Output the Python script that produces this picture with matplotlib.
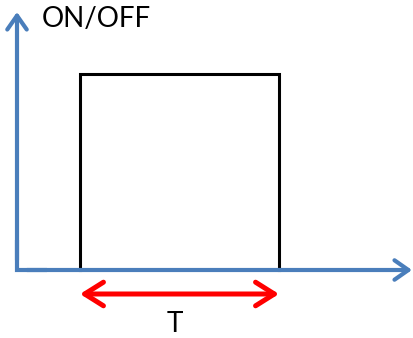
import matplotlib.pyplot as plt

# pulse diagram, pixel coordinates of the reference
pulse_x = [80, 80, 279, 279]
pulse_y = [270, 74, 74, 270]
origin = (17, 270)
x_axis_end = 412
y_axis_end = 12
period_y = 294
labels = ["ON/OFF", "T"]

blue = "#4a7ebb"

fig = plt.figure(figsize=(4.14, 3.38), dpi=100)
ax = fig.add_axes([0, 0, 1, 1])
ax.set_xlim(0, 414)
ax.set_ylim(338, 0)
ax.axis("off")

ax.plot(pulse_x, pulse_y, color="black", lw=2.2, solid_joinstyle="miter")

# square corner of the axes
ax.plot([origin[0], origin[0], origin[0] + 30], [origin[1] - 30, origin[1], origin[1]],
        color=blue, lw=3.0, solid_joinstyle="miter", solid_capstyle="butt")

style = dict(arrowstyle="->,head_length=1.0,head_width=0.7", color=blue,
             lw=3.0, shrinkA=0, shrinkB=0, joinstyle="round")
ax.annotate("", xy=(x_axis_end, origin[1]), xytext=(origin[0] + 10, origin[1]),
            arrowprops=style)
ax.annotate("", xy=(origin[0], y_axis_end), xytext=(origin[0], origin[1] - 10),
            arrowprops=style)

ax.annotate("", xy=(pulse_x[0], period_y), xytext=(pulse_x[-1], period_y),
            arrowprops=dict(arrowstyle="<->,head_length=1.35,head_width=0.85",
                            color="red", lw=3.6, shrinkA=0, shrinkB=0,
                            joinstyle="round"))

ax.text(42, 19, labels[0], fontsize=20, family="Lato", va="center", ha="left")
ax.text(175, 324, labels[1], fontsize=20, family="Lato", va="center", ha="center")

fig.savefig("out.png", dpi=100)
